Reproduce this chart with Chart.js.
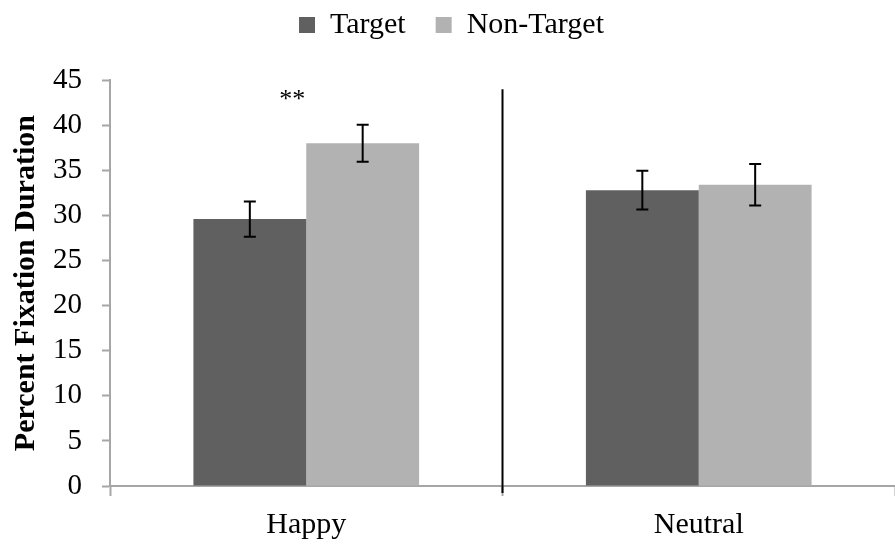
<!DOCTYPE html>
<html>
<head>
<meta charset="utf-8">
<script src="https://cdn.jsdelivr.net/npm/chart.js@4/dist/chart.umd.min.js"></script>
<style>
  html, body { margin: 0; padding: 0; background: #fff; }
  #wrap { width: 895px; height: 546px; }
</style>
</head>
<body>
<div id="wrap"><canvas id="chart"></canvas></div>
<script>
const categories = ["Happy", "Neutral"];
const seriesNames = ["Target", "Non-Target"];
const targetValues = [29.6, 32.8];
const nonTargetValues = [38.0, 33.4];
const targetErrors = [1.95, 2.15];
const nonTargetErrors = [2.05, 2.3];
const yMin = 0;
const yMax = 45;
const yStep = 5;
const significance = ["**", ""];
const separatorTop = 44;

const serif = "'Liberation Serif', 'Times New Roman', serif";
const axisGray = "#a6a6a6";

// error bars + the "**" mark + the black divider between the two groups
const extras = {
  id: "extras",
  afterDatasetsDraw(chart) {
    const ctx = chart.ctx;
    const yScale = chart.scales.y;
    const xScale = chart.scales.x;
    const errs = [targetErrors, nonTargetErrors];

    ctx.save();
    ctx.strokeStyle = "#000";
    ctx.lineWidth = 2;
    chart.data.datasets.forEach((ds, i) => {
      chart.getDatasetMeta(i).data.forEach((bar, j) => {
        const v = ds.data[j];
        const top = yScale.getPixelForValue(v + errs[i][j]);
        const bottom = yScale.getPixelForValue(v - errs[i][j]);
        ctx.beginPath();
        ctx.moveTo(bar.x, top);
        ctx.lineTo(bar.x, bottom);
        ctx.moveTo(bar.x - 6, top);
        ctx.lineTo(bar.x + 6, top);
        ctx.moveTo(bar.x - 6, bottom);
        ctx.lineTo(bar.x + 6, bottom);
        ctx.stroke();
      });
    });

    // divider
    const midX = (xScale.getPixelForTick(0) + xScale.getPixelForTick(1)) / 2;
    ctx.lineWidth = 2;
    ctx.beginPath();
    ctx.moveTo(midX, yScale.getPixelForValue(separatorTop));
    ctx.lineTo(midX, chart.chartArea.bottom + 7);
    ctx.stroke();

    // significance stars
    ctx.fillStyle = "#000";
    ctx.font = "26px " + serif;
    ctx.textAlign = "center";
    ctx.textBaseline = "middle";
    significance.forEach((s, j) => {
      if (!s) return;
      const x = xScale.getPixelForTick(j) - 14;
      ctx.fillText(s, x, yScale.getPixelForValue(42.8));
    });
    ctx.restore();
  }
};

new Chart(document.getElementById("chart"), {
  type: "bar",
  data: {
    labels: categories,
    datasets: [
      {
        label: seriesNames[0],
        data: targetValues,
        backgroundColor: "#606060",
        borderWidth: 0
      },
      {
        label: seriesNames[1],
        data: nonTargetValues,
        backgroundColor: "#b2b2b2",
        borderWidth: 0
      }
    ]
  },
  options: {
    responsive: true,
    maintainAspectRatio: false,
    animation: false,
    datasets: {
      bar: { categoryPercentage: 0.575, barPercentage: 1 }
    },
    layout: { padding: { top: -20, right: 0, left: 8, bottom: 0 } },
    plugins: {
      tooltip: { enabled: false },
      legend: {
        position: "top",
        labels: {
          boxWidth: 16,
          boxHeight: 16,
          padding: 30,
          color: "#000",
          font: { family: serif, size: 30 }
        }
      },
      // empty spacer below the legend
      subtitle: {
        display: true,
        text: " ",
        weight: 500,
        font: { size: 1 },
        padding: { top: 0, bottom: 29 }
      }
    },
    scales: {
      x: {
        grid: {
          display: true,
          offset: true,
          drawOnChartArea: false,
          drawTicks: true,
          tickLength: 10,
          tickWidth: 2,
          tickColor: axisGray
        },
        border: { color: axisGray, width: 2 },
        ticks: {
          color: "#000",
          padding: 11,
          font: { family: serif, size: 30 }
        },
        afterFit(scale) { scale.height = 60; }
      },
      y: {
        min: yMin,
        max: yMax,
        ticks: {
          stepSize: yStep,
          color: "#000",
          padding: 20,
          font: { family: serif, size: 29 }
        },
        grid: {
          display: true,
          drawOnChartArea: false,
          drawTicks: true,
          tickLength: 8,
          tickWidth: 2,
          tickColor: axisGray
        },
        border: { color: axisGray, width: 2 },
        title: {
          display: true,
          text: "Percent Fixation Duration",
          color: "#000",
          padding: { top: 0, bottom: 6 },
          font: { family: serif, size: 30, weight: "bold" }
        },
        afterFit(scale) { scale.width = 102; }
      }
    }
  },
  plugins: [extras]
});
</script>
</body>
</html>
